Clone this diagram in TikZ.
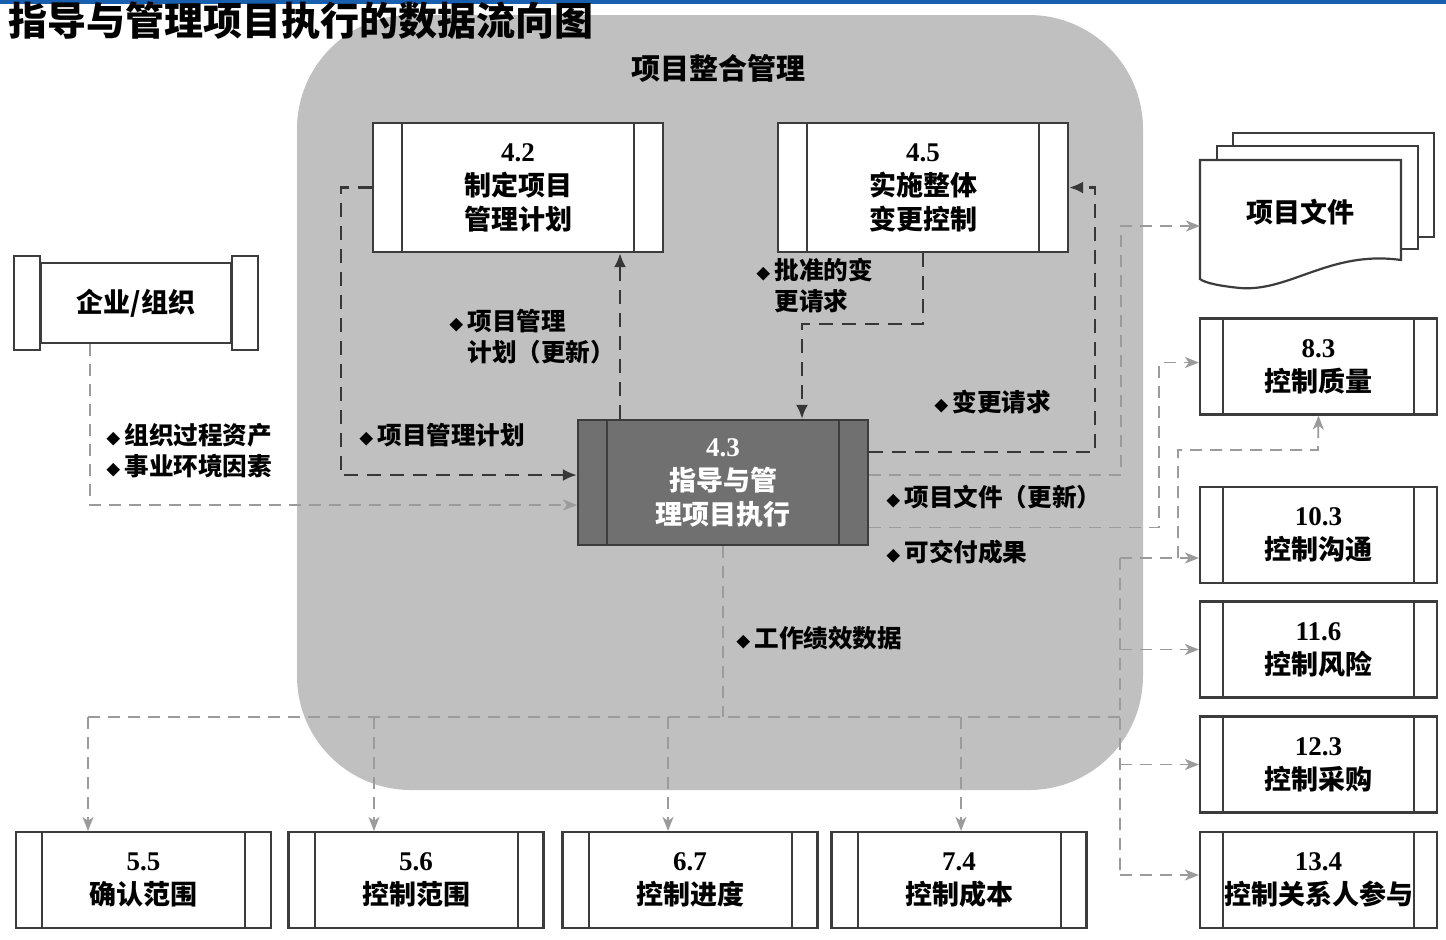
\documentclass[tikz,border=0pt]{standalone}
\usepackage{fontspec}
\setmainfont{Liberation Serif}
\newfontfamily\cjk{Noto Sans CJK SC}
\usetikzlibrary{arrows.meta}
\definecolor{bgc}{RGB}{192,192,192}
\definecolor{boxc}{RGB}{60,60,60}
\definecolor{darkfill}{RGB}{112,112,112}
\definecolor{linedark}{RGB}{55,55,55}
\definecolor{linegray}{RGB}{155,155,155}
\definecolor{topblue}{RGB}{25,95,175}
\newcommand\bul{{\fontsize{7}{7}\selectfont ◆}\,}
\tikzset{
  procbox/.style={draw=boxc, line width=1.1pt, fill=white, align=center, inner sep=0pt,
    minimum width=145pt, minimum height=64.5pt,
    font=\fontsize{13.5}{17}\selectfont\cjk\bfseries,
    path picture={\draw[boxc, line width=1pt]
      ([xshift=#1]path picture bounding box.north west) -- ([xshift=#1]path picture bounding box.south west)
      ([xshift=-#1]path picture bounding box.north east) -- ([xshift=-#1]path picture bounding box.south east);}},
  procbox/.default=14.5pt,
  sidebox/.style={procbox=11.5pt, minimum width=118.5pt, minimum height=48pt},
  basebox/.style={procbox=13pt, minimum width=127.5pt, minimum height=48pt},
  lbl/.style={anchor=west, align=left, inner sep=0pt, font=\fontsize{12.3}{15.5}\selectfont\cjk\bfseries},
  darkdash/.style={draw=linedark, line width=1.3pt, dash pattern=on 7pt off 4.5pt, >={Latex[length=7pt,width=6pt]}},
  graydash/.style={draw=linegray, line width=0.9pt, dash pattern=on 6pt off 4pt, >={Stealth[length=7pt,width=5.5pt,inset=2pt]}}
}
\begin{document}
\begin{tikzpicture}[x=0.5pt,y=-0.5pt]
\useasboundingbox (0,0) rectangle (1446,939);
\fill[white] (0,0) rectangle (1446,939);
\fill[topblue] (0,0) rectangle (1446,4);
% integration area
\fill[bgc, rounded corners=57pt] (297,15) rectangle (1143,790);
\node[font=\fontsize{14.5}{16}\selectfont\cjk\bfseries] (area) at (718,68) {项目整合管理};
\node[anchor=west, inner sep=0pt, font=\fontsize{19.5}{20}\selectfont\cjk\bfseries] (title) at (8,21) {指导与管理项目执行的数据流向图};

% processes
\node[procbox] (p42) at (518,187.5) {{\rmfamily 4.2}\\制定项目\\管理计划};
\node[procbox] (p45) at (923,187.5) {{\rmfamily 4.5}\\实施整体\\变更控制};
\node[procbox, fill=darkfill, text=white, minimum height=62.5pt] (p43) at (723,482.5) {{\rmfamily 4.3}\\指导与管\\理项目执行};

% enterprise
\node[draw=boxc, line width=1.1pt, fill=white, minimum width=95pt, minimum height=40pt, font=\fontsize{13.5}{17}\selectfont\cjk\bfseries] (org) at (136,303) {企业/组织};
\draw[boxc, line width=1.1pt, fill=white] ([xshift=-13pt,yshift=3pt]org.north west) rectangle ([yshift=-3pt]org.south west);
\draw[boxc, line width=1.1pt, fill=white] ([yshift=3pt]org.north east) rectangle ([xshift=13pt,yshift=-3pt]org.south east);

% project documents
\draw[boxc, line width=1.1pt, fill=white] (1233,133) rectangle (1434,237);
\draw[boxc, line width=1.1pt, fill=white] (1217,146) rectangle (1418,249);
\draw[boxc, line width=1.1pt, fill=white] (1200,160) -- (1401,160) -- (1401,260) .. controls (1330,250) and (1290,292) .. (1240,288) .. controls (1220,286) and (1205,283) .. (1200,279) -- cycle;
\node[font=\fontsize{13.5}{17}\selectfont\cjk\bfseries] (docs) at (1300,212) {项目文件};
\coordinate (docin) at (1200,226);

% controlling processes
\node[sidebox] (p83) at (1318.5,366.5) {{\rmfamily 8.3}\\控制质量};
\node[sidebox] (p103) at (1318.5,535) {{\rmfamily 10.3}\\控制沟通};
\node[sidebox] (p116) at (1318.5,649.5) {{\rmfamily 11.6}\\控制风险};
\node[sidebox] (p123) at (1318.5,764.5) {{\rmfamily 12.3}\\控制采购};
\node[sidebox] (p134) at (1318.5,880) {{\rmfamily 13.4}\\控制关系人参与};
\node[basebox] (p55) at (143.5,880) {{\rmfamily 5.5}\\确认范围};
\node[basebox] (p56) at (416,880) {{\rmfamily 5.6}\\控制范围};
\node[basebox] (p67) at (690,880) {{\rmfamily 6.7}\\控制进度};
\node[basebox] (p74) at (959,880) {{\rmfamily 7.4}\\控制成本};

% labels
\node[lbl] (lorg) at (106,450.5) {\bul 组织过程资产\\\bul 事业环境因素};
\node[lbl] (lpmp) at (359,435) {\bul 项目管理计划};
\node[lbl] (lpmpu) at (449,336.5) {\bul 项目管理\\\hphantom{\bul}计划（更新）};
\node[lbl] (lacr) at (756,286) {\bul 批准的变\\\hphantom{\bul}更请求};
\node[lbl] (lcr) at (934,402) {\bul 变更请求};
\node[lbl] (lpdu) at (886,497) {\bul 项目文件（更新）};
\node[lbl] (ldlv) at (886,552) {\bul 可交付成果};
\node[lbl] (lwpd) at (736,638) {\bul 工作绩效数据};

% flows
\draw[graydash,->] ([xshift=-23pt]org.south) |- ([yshift=-11.25pt]p43.west);
\draw[darkdash,->] (p42.west) -- ++(-31,0) |- ([yshift=3.75pt]p43.west);
\coordinate (up42) at ([xshift=-51.5pt]p43.north);
\draw[darkdash,->] (up42) -- (up42 |- p42.south);
\coordinate (dn43) at ([xshift=39.5pt]p43.north);
\draw[darkdash,->] (p45.south) -- ++(0,71) -| (dn43);
\draw[darkdash,->] ([yshift=15.25pt]p43.east) -- ++(226,0) |- (p45.east);
\draw[graydash,->] ([yshift=3.75pt]p43.east) -- ++(252,0) |- (docin);
\draw[graydash,->] ([yshift=-22.5pt]p43.east) -- ++(290,0) |- ([yshift=2pt]p83.west);

% work performance data
\coordinate (busL) at (88,717);
\coordinate (bus56) at (374,717);
\coordinate (bus67) at (668,717);
\coordinate (bus74) at (961,717);
\coordinate (busR) at (1120,717);
\draw[graydash] (p43.south) -- (p43.south |- busL);
\draw[graydash] (busL) -- (busR);
\foreach \b/\p in {busL/p55, bus56/p56, bus67/p67, bus74/p74}
  \draw[graydash,->] (\b) -- (\b |- \p.north);
\coordinate (t103) at ([yshift=-11.5pt]p103.west);
\coordinate (t134) at ([yshift=2.5pt]p134.west);
\draw[graydash] (busR |- t103) -- (busR |- t134);
\foreach \p in {t103, p116.west, p123.west, t134}
  \draw[graydash,->] (busR |- \p) -- (\p);
\coordinate (j83) at (1178,558);
\draw[graydash,->] (j83) |- ++(140,-108) -- (p83.south);
\end{tikzpicture}
\end{document}
